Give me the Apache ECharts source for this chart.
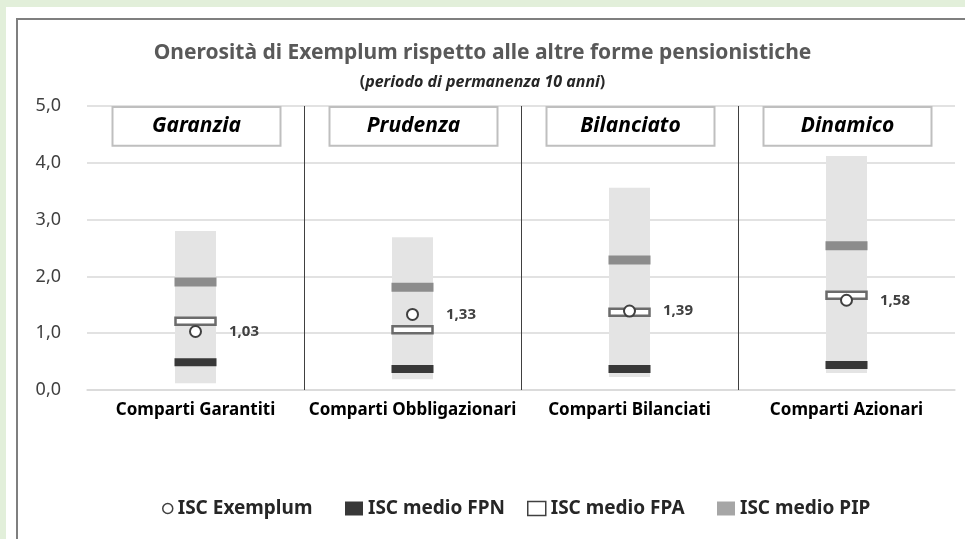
<!DOCTYPE html>
<html>
<head>
<meta charset="utf-8">
<script src="https://cdn.jsdelivr.net/npm/echarts@6/dist/echarts.min.js"></script>
<style>
  html, body { margin: 0; padding: 0; }
  body { width: 965px; height: 539px; background: #e2efda; position: relative; overflow: hidden; }
  #sheet { position: absolute; left: 6px; top: 7px; right: 0; bottom: 0; background: #fff; }
  #frame { position: absolute; left: 16px; top: 18px; right: -4px; bottom: -4px; border-left: 2px solid #7f7f7f; border-top: 2px solid #7f7f7f; }
  #chart { position: absolute; left: 0; top: 0; width: 965px; height: 539px; }
</style>
</head>
<body>
<div id="sheet"></div>
<div id="frame"></div>
<div id="chart"></div>
<script>
// categorie e dati
const categories = ['Comparti Garantiti', 'Comparti Obbligazionari', 'Comparti Bilanciati', 'Comparti Azionari'];
const boxLabels = ['Garanzia', 'Prudenza', 'Bilanciato', 'Dinamico'];
const rangeMin = [0.12, 0.19, 0.23, 0.3];
const rangeMax = [2.8, 2.69, 3.56, 4.12];
const iscFPN = [0.49, 0.37, 0.37, 0.44];
const iscFPA = [1.21, 1.06, 1.37, 1.67];
const iscPIP = [1.9, 1.81, 2.29, 2.54];
const iscExemplum = [1.03, 1.33, 1.39, 1.58];
const yTicks = [0, 1, 2, 3, 4, 5];

const fmt = v => v.toFixed(2).replace('.', ',');
const font = '"Noto Sans", "Open Sans", sans-serif';
const legendText = { fontSize: 19, fontWeight: 'bold', color: '#262626', fontFamily: font };

let chart = echarts.init(document.getElementById('chart'));

// una legenda per voce, così ogni voce sta al suo posto
function legendItem(left, item, w, h) {
    return { left: left, top: 494, itemWidth: w, itemHeight: h, textStyle: legendText, data: [item] };
}

// trattino orizzontale centrato sul valore
function marker(w, h, style) {
    return (params, api) => {
        let p = api.coord([api.value(0), api.value(1)]);
        return { type: 'rect', shape: { x: p[0] - w / 2, y: p[1] - h / 2, width: w, height: h }, style: style };
    };
}

const pairs = arr => arr.map((v, i) => [i, v]);

let option = {
    backgroundColor: 'transparent',
    animation: false,
    textStyle: { fontFamily: font },
    title: {
        text: 'Onerosità di Exemplum rispetto alle altre forme pensionistiche',
        subtext: '{p|(}{i|periodo di permanenza 10 anni}{p|)}',
        left: 'center',
        top: 38,
        itemGap: 10,
        textStyle: { fontSize: 21, fontWeight: 'bold', color: '#595959', fontFamily: font },
        subtextStyle: {
            rich: {
                p: { fontSize: 16, fontWeight: 'bold', color: '#262626', fontFamily: font },
                i: { fontSize: 16, fontWeight: 'bold', fontStyle: 'italic', color: '#262626', fontFamily: font }
            }
        }
    },
    legend: [
        legendItem(157, { name: 'ISC Exemplum', icon: 'circle', itemStyle: { color: '#fff', borderColor: '#404040', borderWidth: 1.5 } }, 10, 10),
        legendItem(340, { name: 'ISC medio FPN', icon: 'rect', itemStyle: { color: '#383838', borderWidth: 0 } }, 18, 14),
        legendItem(522, { name: 'ISC medio FPA', icon: 'rect', itemStyle: { color: '#fff', borderColor: '#404040', borderWidth: 1.5 } }, 18, 14),
        legendItem(712, { name: 'ISC medio PIP', icon: 'rect', itemStyle: { color: '#a6a6a6', borderWidth: 0 } }, 18, 14)
    ],
    grid: { left: 87, right: 10, top: 106, bottom: 149 },
    xAxis: {
        type: 'category',
        data: categories,
        axisLine: { lineStyle: { color: '#d9d9d9', width: 1.5 } },
        axisTick: { show: false },
        axisLabel: { fontSize: 17, fontWeight: 'bold', color: '#000', margin: 12, interval: 0 }
    },
    yAxis: {
        type: 'value',
        min: yTicks[0],
        max: yTicks[yTicks.length - 1],
        interval: 1,
        axisLine: { show: false },
        axisTick: { show: false },
        splitLine: { lineStyle: { color: '#d9d9d9', width: 1.5 } },
        axisLabel: { fontSize: 18, color: '#404040', margin: 26, formatter: v => v.toFixed(1).replace('.', ',') }
    },
    series: [
        {
            // separatori verticali fra le categorie
            type: 'custom',
            silent: true,
            data: categories.slice(0, -1).map((c, i) => [i]),
            renderItem: (params, api) => {
                let w = api.size([1, 0])[0];
                let top = api.coord([api.value(0), yTicks[yTicks.length - 1]]);
                let bot = api.coord([api.value(0), 0]);
                let x = Math.round(top[0] + w / 2) + 0.5;
                return { type: 'line', shape: { x1: x, y1: top[1], x2: x, y2: bot[1] }, style: { stroke: '#404040', lineWidth: 1 } };
            },
            z: 1
        },
        {
            // riquadri con nome del comparto
            type: 'custom',
            silent: true,
            data: boxLabels.map((b, i) => [i, 5, 4.3]),
            renderItem: (params, api) => {
                let p1 = api.coord([api.value(0), api.value(1)]);
                let p2 = api.coord([api.value(0), api.value(2)]);
                return {
                    type: 'rect',
                    shape: { x: p1[0] - 83, y: p1[1] + 1, width: 168, height: p2[1] - p1[1] - 1 },
                    style: { fill: '#fff', stroke: '#bfbfbf', lineWidth: 2 },
                    textContent: {
                        style: { text: boxLabels[params.dataIndex], fill: '#000', font: 'italic bold 21px ' + font }
                    },
                    textConfig: { position: 'inside' }
                };
            },
            z: 2
        },
        {
            // intervallo grigio chiaro
            type: 'custom',
            silent: true,
            data: categories.map((c, i) => [i, rangeMin[i], rangeMax[i]]),
            renderItem: (params, api) => {
                let lo = api.coord([api.value(0), api.value(1)]);
                let hi = api.coord([api.value(0), api.value(2)]);
                return { type: 'rect', shape: { x: lo[0] - 20.5, y: hi[1], width: 41, height: lo[1] - hi[1] }, style: { fill: '#e4e4e4' } };
            },
            z: 3
        },
        {
            name: 'ISC medio PIP',
            type: 'custom',
            silent: true,
            data: pairs(iscPIP),
            renderItem: marker(42, 9, { fill: '#8c8c8c' }),
            z: 4
        },
        {
            name: 'ISC medio FPN',
            type: 'custom',
            silent: true,
            data: pairs(iscFPN),
            renderItem: marker(42, 8, { fill: '#383838' }),
            z: 4
        },
        {
            name: 'ISC medio FPA',
            type: 'custom',
            silent: true,
            data: pairs(iscFPA),
            renderItem: marker(40, 7, { fill: '#fff', stroke: '#6b6b6b', lineWidth: 2.5 }),
            z: 5
        },
        {
            name: 'ISC Exemplum',
            type: 'scatter',
            symbol: 'circle',
            symbolSize: 11,
            itemStyle: { color: '#fff', borderColor: '#404040', borderWidth: 2, opacity: 1 },
            label: {
                show: true,
                position: 'right',
                distance: 27,
                formatter: p => fmt(p.value),
                fontSize: 15,
                fontWeight: 'bold',
                color: '#404040'
            },
            data: iscExemplum,
            z: 6
        }
    ]
};

chart.setOption(option);
</script>
</body>
</html>
